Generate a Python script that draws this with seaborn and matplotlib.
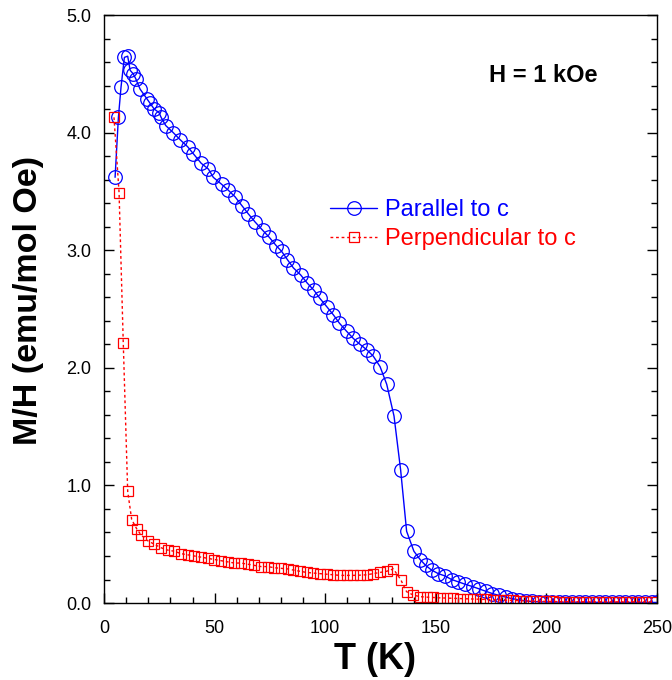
import matplotlib
matplotlib.use("Agg")
import matplotlib.pyplot as plt
import seaborn as sns
import pandas as pd
from matplotlib.ticker import MultipleLocator, FormatStrFormatter

# ---- data ----
T_par = [5.0, 6.5, 7.7, 9.2, 10.7, 11.8, 13.2, 14.3, 16.3, 19.3, 20.8, 22.7, 24.9, 25.8,
         27.9, 31.3, 34.4, 37.8, 40.4, 43.9, 47.2, 49.4, 53.2, 56.2, 59.2, 62.3, 65.2,
         68.3, 71.7, 74.7, 77.8, 80.3, 82.9, 85.6, 88.9, 91.9, 94.9, 97.6, 100.7, 103.7,
         106.4, 109.7, 112.7, 115.7, 119.0, 121.7, 124.8, 127.8, 131.1, 134.1, 136.8,
         140.1, 142.9, 145.4, 148.1, 151.1, 154.2, 157.1, 160.2, 163.2, 166.6, 169.6,
         172.6, 175.6, 178.6, 181.6, 184.6, 187.6, 190.6, 193.6, 196.6, 199.6, 202.6,
         205.6, 208.6, 211.6, 214.6, 217.6, 220.6, 223.6, 226.6, 229.6, 232.6, 235.6,
         238.6, 241.6, 244.6, 247.6, 250.0]
M_par = [3.62, 4.13, 4.39, 4.64, 4.65, 4.53, 4.50, 4.46, 4.37, 4.29, 4.25, 4.20, 4.17, 4.13,
         4.06, 4.00, 3.94, 3.88, 3.82, 3.74, 3.69, 3.62, 3.56, 3.51, 3.455, 3.38, 3.31,
         3.24, 3.17, 3.11, 3.04, 2.99, 2.92, 2.85, 2.79, 2.72, 2.66, 2.59, 2.52, 2.45,
         2.38, 2.31, 2.25, 2.20, 2.15, 2.10, 2.01, 1.86, 1.59, 1.13, 0.61,
         0.44, 0.37, 0.32, 0.28, 0.25, 0.23, 0.20, 0.18, 0.16, 0.14, 0.12,
         0.10, 0.08, 0.065, 0.05, 0.037, 0.027, 0.018, 0.013, 0.010, 0.009, 0.008,
         0.008, 0.007, 0.007, 0.007, 0.006, 0.006, 0.006, 0.006, 0.006, 0.005, 0.005,
         0.005, 0.005, 0.005, 0.005, 0.005]

T_perp = [4.5, 6.8, 8.7, 10.7, 12.5, 14.8, 16.7, 19.7, 22.7, 25.8, 28.8, 31.8, 34.8, 37.8,
          40.8, 43.9, 46.9, 49.9, 52.9, 55.9, 58.9, 61.9, 65.0, 68.0, 71.0, 74.0, 77.0,
          80.0, 83.0, 85.6, 88.6, 91.6, 94.6, 97.6, 100.7, 103.7, 106.7, 109.7, 112.7,
          115.7, 118.8, 121.7, 124.8, 127.8, 130.8, 134.1, 136.8, 139.8, 142.9, 145.9,
          148.9, 151.9, 154.9, 157.9, 160.9, 163.9, 166.9, 169.9, 172.9, 175.9, 178.9,
          181.9, 184.9, 187.9, 190.9, 193.9, 196.9, 199.9, 202.9, 205.9, 208.9, 211.9,
          214.9, 217.9, 220.9, 223.9, 226.9, 229.9, 232.9, 235.9, 238.9, 241.9, 244.9,
          247.9]
M_perp = [4.13, 3.49, 2.21, 0.95, 0.71, 0.63, 0.58, 0.53, 0.50, 0.47, 0.45, 0.44, 0.42, 0.41,
          0.40, 0.39, 0.38, 0.37, 0.36, 0.35, 0.34, 0.34, 0.33, 0.32, 0.31, 0.31, 0.30,
          0.295, 0.29, 0.28, 0.27, 0.26, 0.255, 0.25, 0.245, 0.24, 0.235, 0.235, 0.235,
          0.237, 0.24, 0.25, 0.26, 0.27, 0.29, 0.20, 0.096, 0.068, 0.054, 0.05,
          0.047, 0.044, 0.042, 0.04, 0.038, 0.036, 0.034, 0.032, 0.03, 0.028, 0.026,
          0.024, 0.022, 0.02, 0.018, 0.016, 0.015, 0.014, 0.013, 0.012, 0.012, 0.011,
          0.011, 0.01, 0.01, 0.01, 0.01, 0.01, 0.01, 0.01, 0.01, 0.01, 0.01,
          0.01]

label_par = "Parallel to c"
label_perp = "Perpendicular to c"
x_label = "T (K)"
y_label = "M/H (emu/mol Oe)"
annot = "H = 1 kOe"

# ---- style ----
sns.set_style("ticks")
plt.rcParams["font.family"] = ["Liberation Sans", "DejaVu Sans"]
plt.rcParams["text.color"] = "black"
plt.rcParams["axes.labelcolor"] = "black"
plt.rcParams["xtick.color"] = "black"
plt.rcParams["ytick.color"] = "black"
plt.rcParams["axes.edgecolor"] = "black"

fig = plt.figure(figsize=(6.72, 6.8), dpi=100)
ax = fig.add_axes([0.1548, 0.1132, 0.8229, 0.8647])

df_par = pd.DataFrame({"T": T_par, "M": M_par})
df_perp = pd.DataFrame({"T": T_perp, "M": M_perp})

sns.lineplot(data=df_par, x="T", y="M", ax=ax, sort=False, estimator=None,
             color="#0000ff", linewidth=1.0, marker="o", markersize=9.8,
             markerfacecolor="none", markeredgecolor="#0000ff", markeredgewidth=0.9,
             label=label_par)
sns.lineplot(data=df_perp, x="T", y="M", ax=ax, sort=False, estimator=None,
             color="#ff0000", linewidth=1.0, linestyle=(0, (2, 2)), marker="s",
             markersize=7.5, markerfacecolor="none", markeredgecolor="#ff0000",
             markeredgewidth=0.9, label=label_perp)

ax.set_xlim(0, 250)
ax.set_ylim(0, 5)
ax.xaxis.set_major_locator(MultipleLocator(50))
ax.xaxis.set_minor_locator(MultipleLocator(10))
ax.yaxis.set_major_locator(MultipleLocator(1))
ax.yaxis.set_minor_locator(MultipleLocator(0.2))
ax.yaxis.set_major_formatter(FormatStrFormatter("%.1f"))

for s in ax.spines.values():
    s.set_linewidth(1.0)
    s.set_color("black")
    s.set_visible(True)

ax.tick_params(which="both", direction="in", top=False, right=True,
               labelright=False, width=1.0, color="black", labelcolor="black")
ax.tick_params(which="major", length=7)
ax.tick_params(which="minor", length=4)
ax.tick_params(axis="x", which="major", labelsize=13, pad=12)
ax.tick_params(axis="y", which="major", labelsize=13, pad=9)

ax.set_xlabel(x_label, fontsize=26, fontweight="bold", labelpad=4)
ax.set_ylabel(y_label, fontsize=24.5, fontweight="bold", labelpad=16)
ax.xaxis.label.set_x(0.49)
ax.yaxis.label.set_y(0.515)

ax.text(0.696, 0.898, annot, transform=ax.transAxes, fontsize=17,
        fontweight="bold", ha="left", va="center")

leg = ax.legend(loc="upper left", bbox_to_anchor=(0.392, 0.703), frameon=False,
                fontsize=17, handlelength=2.0, handletextpad=0.3,
                labelspacing=0.3, labelcolor="linecolor", borderaxespad=0)

fig.savefig("out.png", dpi=100)
